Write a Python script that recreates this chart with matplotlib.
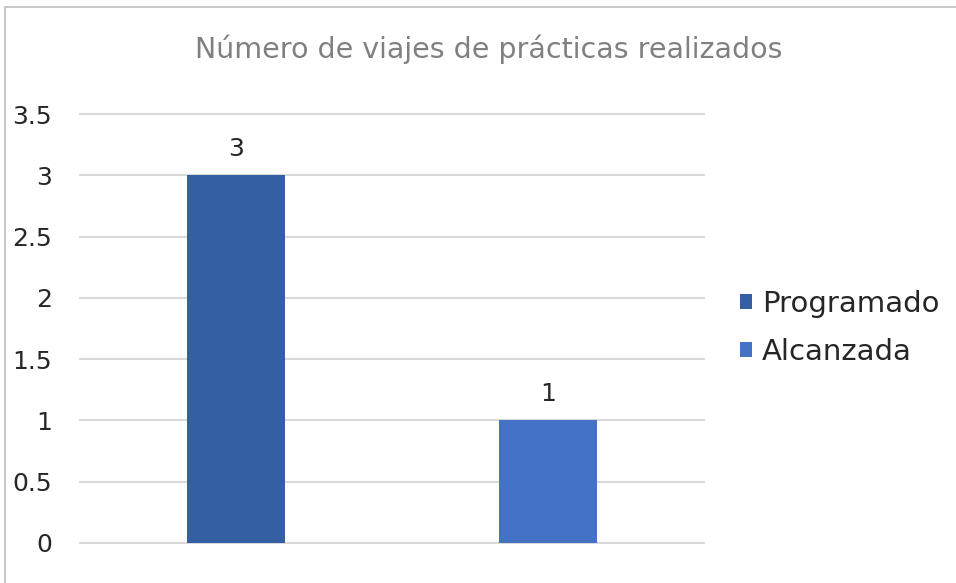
import matplotlib
matplotlib.use("Agg")
import matplotlib.pyplot as plt
from matplotlib.patches import Rectangle

title = "Número de viajes de prácticas realizados"
series = ["Programado", "Alcanzada"]
values = [3, 1]
colors = ["#355FA3", "#4472C4"]
yticks = [0, 0.5, 1, 1.5, 2, 2.5, 3, 3.5]
ytick_labels = ["0", "0.5", "1", "1.5", "2", "2.5", "3", "3.5"]

plt.rcParams['font.family'] = ['DejaVu Sans']

fig = plt.figure(figsize=(9.56, 5.83), dpi=100)
ax = fig.add_axes([80/956, 40/583, 624/956, 429/583])

for i, (s, v, c) in enumerate(zip(series, values, colors)):
    ax.bar(i, v, width=0.314, color=c, label=s, zorder=3)
    ax.text(i, v + 0.12, str(v), ha="center", va="bottom", fontsize=18, color="#262626")

ax.set_xlim(-0.5, 1.5)
ax.set_ylim(0, 3.5)
ax.set_yticks(yticks)
ax.set_yticklabels(ytick_labels, fontsize=18, color="#262626")
ax.set_xticks([])
ax.tick_params(axis="y", length=0, pad=20)
for lab in ax.get_yticklabels():
    lab.set_horizontalalignment("right")
ax.grid(axis="y", color="#D9D9D9", linewidth=1.5, zorder=0)
for gl in ax.get_ygridlines():
    gl.set_clip_on(False)
for sp in ax.spines.values():
    sp.set_visible(False)

fig.text(489/956, 1 - 49/583, title, ha="center", va="center", fontsize=20.5,
         color="#808080")

leg = fig.legend(loc="center left", bbox_to_anchor=(740/956, 1 - 328/583), frameon=False,
                 fontsize=21, handlelength=0.42, handleheight=0.42, handletextpad=0.34,
                 labelspacing=0.7, borderpad=0, borderaxespad=0)
for t in leg.get_texts():
    t.set_color("#262626")

fig.patches.append(Rectangle((5/956, -0.05), 1.2, 1 - 7/583 + 0.05, transform=fig.transFigure,
                             fill=False, edgecolor="#BFBFBF", linewidth=1.2))

fig.savefig("out.png", dpi=100)
